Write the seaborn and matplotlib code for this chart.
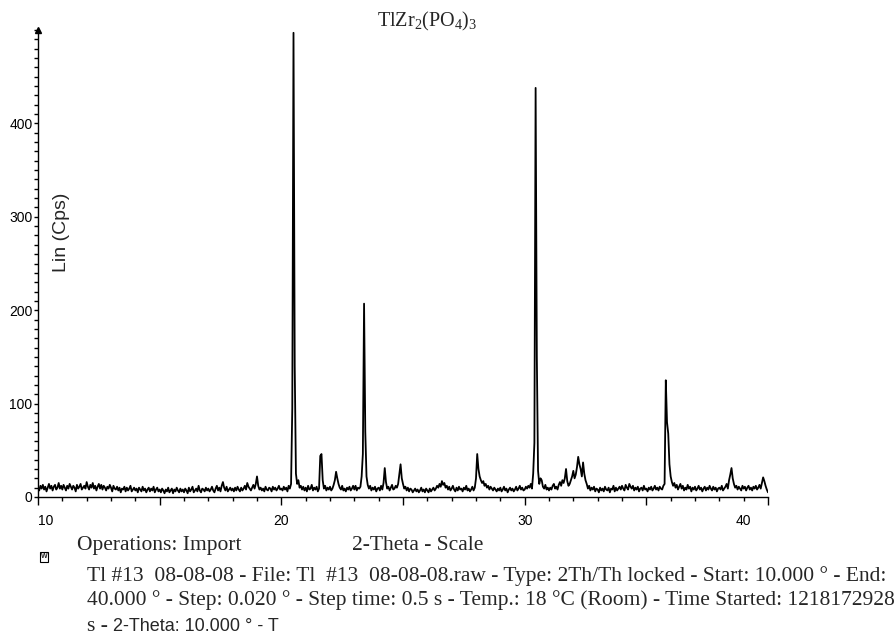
import numpy as np
import matplotlib
matplotlib.use("Agg")
import matplotlib.pyplot as plt
import matplotlib.transforms as mtransforms
from matplotlib.ticker import FixedLocator, FixedFormatter, MultipleLocator
import seaborn as sns

# scan settings (2-Theta, degrees)
scan_start = 10.0
scan_step = 0.05

# intensity (Cps), one row per degree
counts = [
    10, 7, 12, 9, 13, 8, 11, 6, 10, 14, 9, 12, 7, 11, 13, 8, 10, 15, 9, 12,       # 10
    8, 13, 10, 7, 12, 9, 14, 11, 8, 12, 10, 6, 13, 9, 11, 14, 8, 10, 12, 9,       # 11
    16, 11, 8, 13, 10, 15, 9, 12, 7, 11, 14, 9, 13, 8, 12, 10, 7, 11, 9, 13,      # 12
    10, 6, 12, 9, 8, 11, 7, 10, 5, 9, 8, 11, 6, 10, 7, 9, 12, 6, 8, 10,           # 13
    7, 9, 5, 10, 8, 6, 11, 7, 9, 5, 8, 10, 6, 9, 7, 11, 5, 8, 10, 6,              # 14
    8, 5, 9, 7, 4, 8, 6, 10, 5, 7, 9, 4, 8, 6, 10, 7, 5, 9, 6, 8,                 # 15
    5, 9, 7, 4, 10, 6, 8, 11, 5, 7, 9, 6, 12, 7, 5, 9, 8, 6, 10, 7,               # 16
    9, 6, 8, 11, 7, 5, 9, 12, 7, 10, 6, 12, 16, 10, 7, 11, 6, 8, 10, 7,           # 17
    9, 6, 10, 7, 11, 8, 6, 10, 7, 9, 12, 8, 15, 11, 9, 7, 10, 13, 9, 14,          # 18
    22, 12, 8, 10, 7, 9, 6, 11, 8, 7, 10, 9, 6, 11, 8, 10, 7, 9, 12, 8,           # 19
    9, 7, 11, 8, 10, 6, 12, 9, 14, 95, 497, 140, 25, 14, 18, 10, 12, 8, 11, 7,    # 20
    10, 6, 12, 8, 9, 13, 7, 10, 8, 11, 6, 9, 44, 46, 18, 9, 12, 7, 10, 8,         # 21
    11, 7, 9, 13, 18, 27, 20, 14, 10, 8, 12, 7, 9, 6, 10, 8, 11, 7, 9, 12,        # 22
    8, 12, 7, 10, 9, 11, 22, 46, 207, 70, 22, 13, 9, 12, 7, 10, 8, 11, 6, 9,      # 23
    10, 7, 12, 8, 15, 31, 16, 9, 11, 7, 10, 13, 8, 9, 12, 10, 14, 25, 35, 20,     # 24
    14, 9, 11, 7, 10, 6, 9, 8, 5, 7, 9, 6, 8, 5, 7, 10, 6, 8, 5, 9,               # 25
    7, 5, 9, 6, 8, 10, 7, 9, 12, 10, 14, 11, 17, 13, 15, 10, 12, 8, 11, 7,        # 26
    9, 12, 8, 6, 10, 7, 11, 8, 9, 6, 10, 8, 12, 7, 9, 6, 8, 11, 7, 10,           # 27
    20, 46, 30, 22, 18, 15, 17, 12, 14, 10, 12, 8, 11, 9, 7, 10, 8, 6, 9, 7,      # 28
    10, 6, 8, 11, 7, 9, 5, 8, 10, 7, 9, 6, 8, 11, 7, 9, 12, 8, 10, 7,             # 29
    8, 11, 9, 12, 10, 14, 9, 25, 58, 438, 150, 28, 14, 20, 18, 11, 9, 13, 8, 10,  # 30
    7, 10, 8, 12, 14, 9, 11, 8, 13, 16, 12, 18, 15, 20, 30, 17, 12, 14, 18, 22,   # 31
    28, 20, 24, 32, 43, 35, 30, 22, 37, 25, 18, 14, 9, 12, 7, 10, 8, 11, 6, 9,    # 32
    8, 5, 10, 7, 9, 6, 11, 8, 7, 10, 5, 9, 8, 12, 6, 10, 7, 9, 11, 8,             # 33
    12, 9, 7, 13, 10, 8, 14, 11, 9, 12, 7, 10, 8, 11, 6, 9, 10, 7, 12, 8,         # 34
    9, 6, 10, 8, 11, 7, 9, 12, 8, 10, 7, 11, 9, 8, 12, 14, 125, 80, 68, 35,       # 35
    22, 16, 12, 15, 10, 13, 8, 11, 14, 9, 12, 7, 10, 8, 13, 9, 11, 6, 10, 8,      # 36
    11, 7, 9, 12, 8, 10, 6, 9, 11, 7, 10, 8, 12, 9, 7, 11, 8, 10, 6, 9,           # 37
    10, 8, 12, 7, 9, 11, 14, 9, 18, 24, 31, 20, 14, 10, 12, 8, 11, 9, 7, 12,      # 38
    9, 11, 7, 10, 12, 8, 10, 7, 11, 9, 12, 8, 10, 13, 9, 15, 21, 17, 12, 8,       # 39
    5,                                                                            # 40
]
two_theta = np.round(scan_start + scan_step * np.arange(len(counts)), 2)

x_major = [10, 15, 20, 25, 30, 35, 40]
x_labels = ["10", "", "20", "", "30", "", "40"]
y_ticks = [0, 100, 200, 300, 400]

title = r"TlZr$_\mathrm{2}$(PO$_\mathrm{4}$)$_\mathrm{3}$"
info_lines = [
    "Tl #13  08-08-08 - File: Tl  #13  08-08-08.raw - Type: 2Th/Th locked - Start: 10.000 ° - End:",
    "40.000 ° - Step: 0.020 ° - Step time: 0.5 s - Temp.: 18 °C (Room) - Time Started: 1218172928",
]

sns.set_style("ticks")
plt.rcParams["font.family"] = ["Liberation Sans", "DejaVu Sans"]
plt.rcParams["mathtext.fontset"] = "custom"
plt.rcParams["mathtext.rm"] = "Liberation Serif"
serif = ["Liberation Serif", "DejaVu Serif"]

W, H = 895, 643
fig = plt.figure(figsize=(W / 100, H / 100), dpi=100)
ax = fig.add_axes([38 / W, 1 - 497 / H, 730 / W, 467 / H])

sns.lineplot(x=two_theta, y=counts, ax=ax, color="black", linewidth=1.3, estimator=None)

ax.set_xlim(10, 40)
ax.set_ylim(0, 500)
sns.despine(ax=ax)
for s in ["left", "bottom"]:
    ax.spines[s].set_linewidth(1.0)
    ax.spines[s].set_color("black")

ax.xaxis.set_major_locator(FixedLocator(x_major))
ax.xaxis.set_major_formatter(FixedFormatter(x_labels))
ax.xaxis.set_minor_locator(MultipleLocator(1))
ax.tick_params(axis="x", which="major", length=6, width=1, pad=6.5, labelsize=10, colors="black")
ax.tick_params(axis="x", which="minor", length=3, width=1, colors="black")

ax.yaxis.set_major_locator(FixedLocator(y_ticks))
ax.yaxis.set_minor_locator(MultipleLocator(10))
ax.tick_params(axis="y", which="major", length=3, width=1, pad=1, labelsize=10, colors="black")
ax.tick_params(axis="y", which="minor", length=3, width=1, colors="black")

ax.set_xlabel("")
ax.set_ylabel("")

# edge labels of the x axis sit inside the axis span
fig.canvas.draw()
lbls = {t.get_text(): t for t in ax.get_xticklabels() if t.get_text()}
lbls["10"].set_transform(lbls["10"].get_transform() + mtransforms.ScaledTranslation(8 / 100, 0, fig.dpi_scale_trans))
lbls["40"].set_transform(lbls["40"].get_transform() + mtransforms.ScaledTranslation(-25 / 100, 0, fig.dpi_scale_trans))

# arrow head on top of the y axis
ax.plot([10], [500], marker="^", color="black", markersize=4, clip_on=False)

fig.text(62 / W, 1 - 232 / H, "Lin (Cps)", rotation=90, ha="center", va="center", fontsize=14)
fig.text(427 / W, 1 - 21 / H, title, ha="center", va="center", fontsize=14.5, family=serif)

fs = 15.5
fig.text(77 / W, 1 - 550 / H, "Operations: Import", ha="left", va="baseline", fontsize=fs, family=serif)
fig.text(352 / W, 1 - 550 / H, "2-Theta - Scale", ha="left", va="baseline", fontsize=fs, family=serif)
fig.text(44 / W, 1 - 557 / H, "W", ha="center", va="center", fontsize=5, fontweight="bold",
         bbox=dict(boxstyle="square,pad=0.15", fc="white", ec="black", lw=0.8))

fig.text(87 / W, 1 - 581 / H, info_lines[0], ha="left", va="baseline", fontsize=fs, family=serif)
fig.text(87 / W, 1 - 605 / H, info_lines[1], ha="left", va="baseline", fontsize=fs, family=serif)
t1 = fig.text(87 / W, 1 - 631 / H, "s - ", ha="left", va="baseline", fontsize=fs, family=serif)
fig.canvas.draw()
bb = t1.get_window_extent()
fig.text(bb.x1 / W, 1 - 631 / H, "2-Theta: 10.000 ° - T", ha="left", va="baseline", fontsize=13)

fig.savefig("out.png", dpi=100)
